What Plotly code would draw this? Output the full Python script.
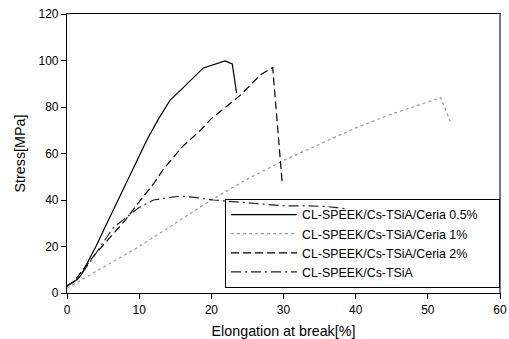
import plotly.graph_objects as go

# Data
ceria05_x = [0, 0.5, 1.5, 2, 4, 6, 8, 9.2, 11.1, 12.7, 14.3, 16, 17.5, 18.9, 21.9, 22.9, 23.5]
ceria05_y = [3, 4, 6, 8, 20, 33, 46, 54, 66, 75, 83, 88, 92.5, 96.8, 99.8, 98.5, 86]

ceria1_x = [0, 5, 10, 15, 20, 25, 30, 35, 40, 45, 51.8, 53.2]
ceria1_y = [2, 11, 20, 30, 40, 49, 57, 64, 71, 77, 84, 73]

ceria2_x = [0, 1, 2.2, 4, 6, 8, 9.7, 12, 13.3, 16, 18.5, 20, 22, 24, 26.8, 28.5, 29.8]
ceria2_y = [3, 5, 10, 17, 24, 31, 38, 47, 53, 63, 70, 75, 80, 85, 93.8, 97, 48]

base_x = [0, 1, 2, 4, 6.4, 8, 9.9, 12, 14, 15.7, 18, 20.3, 23, 26.8, 30, 33, 36, 38.6]
base_y = [3, 5, 8, 17, 28, 32, 36.6, 40, 41, 41.7, 41, 40, 39.3, 38.3, 37.5, 37.5, 37.2, 36.2]

names = ["CL-SPEEK/Cs-TSiA/Ceria 0.5%", "CL-SPEEK/Cs-TSiA/Ceria 1%",
         "CL-SPEEK/Cs-TSiA/Ceria 2%", "CL-SPEEK/Cs-TSiA"]

x_ticks = [0, 10, 20, 30, 40, 50, 60]
y_ticks = [0, 20, 40, 60, 80, 100, 120]

FONT = "Liberation Sans, Arial"

fig = go.Figure()
fig.add_trace(go.Scatter(x=ceria05_x, y=ceria05_y, mode="lines", name=names[0],
                         line=dict(color="black", width=1.2, dash="solid")))
fig.add_trace(go.Scatter(x=ceria1_x, y=ceria1_y, mode="lines", name=names[1],
                         line=dict(color="#9a9a9a", width=1.2, dash="dot")))
fig.add_trace(go.Scatter(x=ceria2_x, y=ceria2_y, mode="lines", name=names[2],
                         line=dict(color="black", width=1.2, dash="8px,4px")))
fig.add_trace(go.Scatter(x=base_x, y=base_y, mode="lines", name=names[3],
                         line=dict(color="#222222", width=1.2, dash="10px,4px,2px,4px")))

axis_font = dict(family=FONT, size=12, color="black")
fig.update_xaxes(range=[0, 60], tickvals=x_ticks, showgrid=False, zeroline=False,
                 showline=True, linecolor="black", linewidth=1.2, mirror=True,
                 ticks="outside", ticklen=5, tickcolor="black", tickfont=axis_font,
                 automargin=False,
                 title=dict(text="Elongation at break[%]", font=dict(family=FONT, size=14.3, color="black"), standoff=13))
fig.update_yaxes(range=[0, 120], tickvals=y_ticks, showgrid=False, zeroline=False,
                 showline=True, linecolor="black", linewidth=1.2, mirror=True,
                 ticks="outside", ticklen=5, tickcolor="black", tickfont=axis_font,
                 automargin=False,
                 title=dict(text="Stress[MPa]", font=dict(family=FONT, size=14.3, color="black"), standoff=9))

fig.add_shape(type="line", xref="paper", yref="paper", x0=1, x1=1, y0=0, y1=1,
              line=dict(color="#777777", width=2))

fig.update_layout(
    width=509, height=339,
    margin=dict(l=67, r=9, t=14, b=46),
    plot_bgcolor="white", paper_bgcolor="white",
    font=dict(family=FONT, size=12, color="black"),
    legend=dict(orientation="h", x=1, xanchor="right", y=0.018, yanchor="bottom",
                bordercolor="black", borderwidth=1, bgcolor="rgba(255,255,255,0)",
                font=dict(family=FONT, size=12.4), tracegroupgap=0, itemwidth=66,
                entrywidth=192, entrywidthmode="pixels"),
    showlegend=True,
)

fig.write_html("out.html")
